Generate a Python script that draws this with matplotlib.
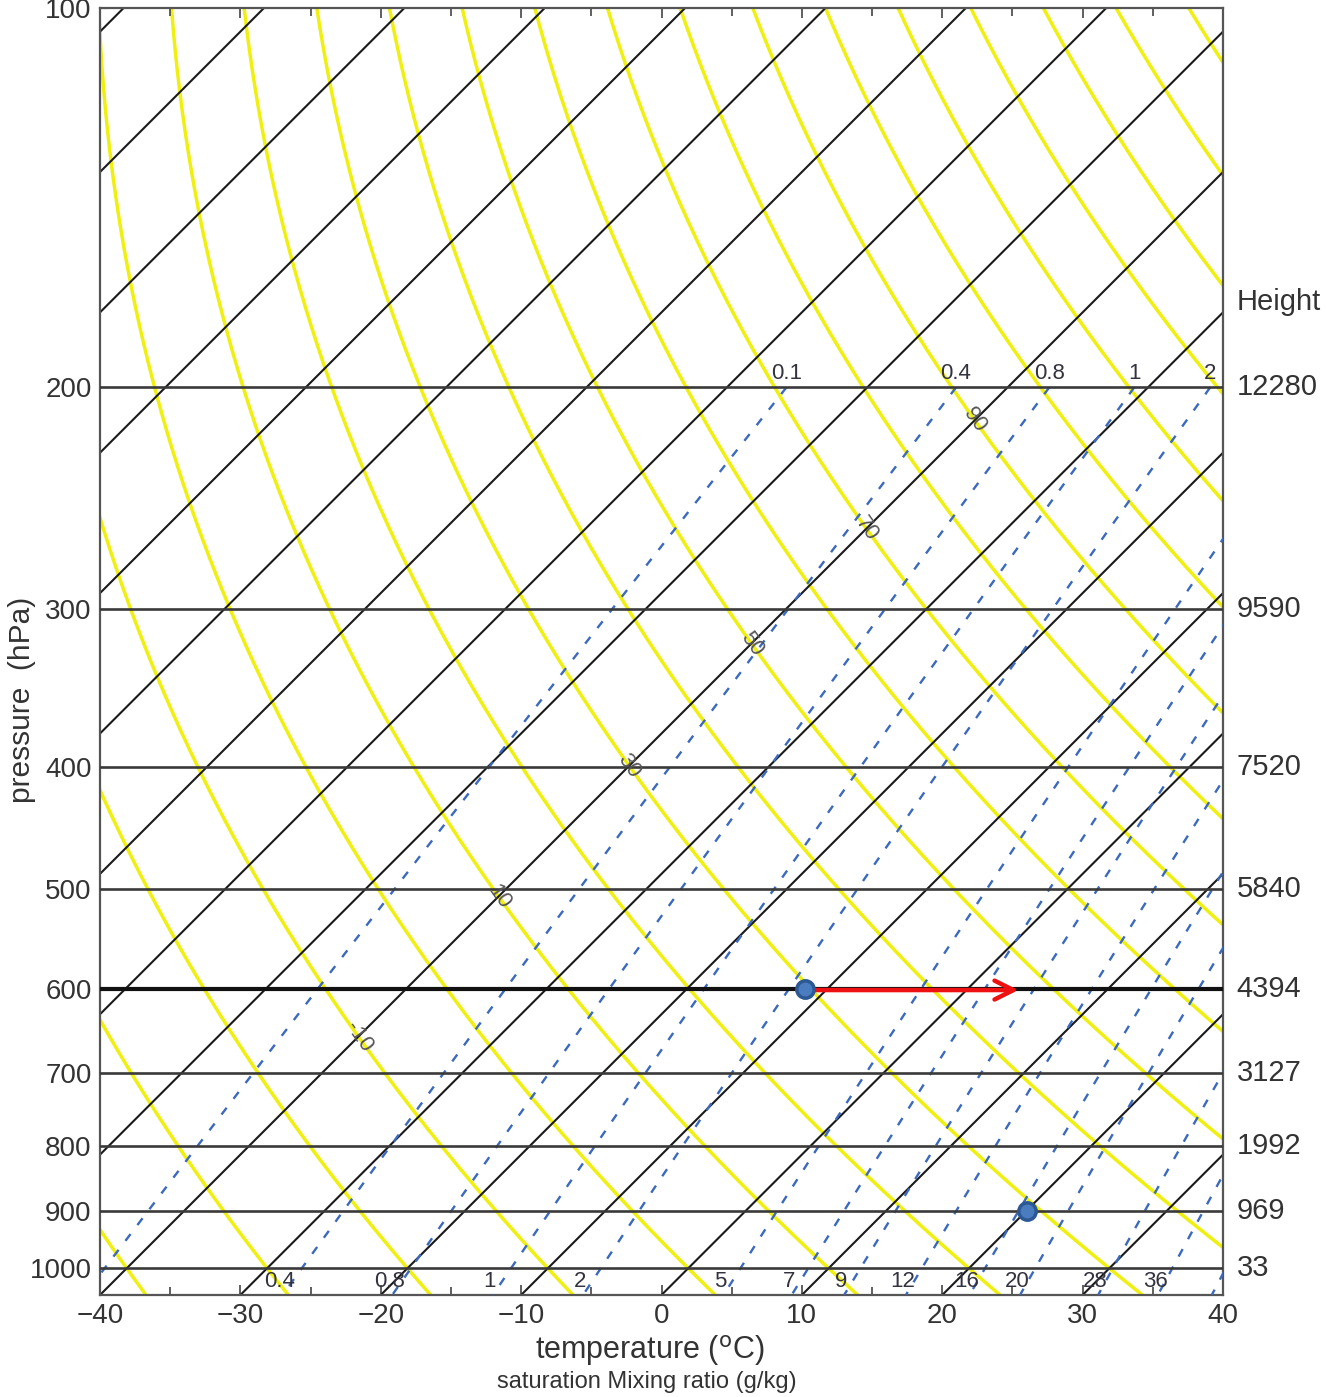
import numpy as np
import matplotlib
matplotlib.use('Agg')
import matplotlib.pyplot as plt
from matplotlib.ticker import FixedLocator, NullLocator, FixedFormatter

plt.rcParams['font.family'] = ['Liberation Sans', 'DejaVu Sans']

# ---------------- data ----------------
temp_ticks = [-40, -30, -20, -10, 0, 10, 20, 30, 40]
pressure_ticks = [100, 200, 300, 400, 500, 600, 700, 800, 900, 1000]
isobar_levels = [200, 300, 400, 500, 600, 700, 800, 900, 1000]
height_labels = ['12280', '9590', '7520', '5840', '4394', '3127', '1992', '969', '33']
isotherms = list(range(-130, 41, 10))            # deg C
theta_values = list(range(-40, 161, 10))         # potential temperature, deg C
theta_label_values = [-10, 10, 30, 50, 70, 90]
theta_label_isotherm = -40
mixing_ratios = [0.1, 0.4, 0.8, 1.45, 2.4, 5, 7, 9, 12, 16, 20, 28, 36, 45]   # g/kg (line positions)
mr_bottom_labels = ['', '0.4', '0.8', '1', '2', '5', '7', '9', '12', '16', '20', '28', '36', '']
mr_top_labels = ['0.1', '0.4', '0.8', '1', '2', '', '', '', '', '', '', '', '', '']
mr_top_pressure = 200
parcel_T = [20, -11.6]
parcel_p = [900, 600]
arrow_T = [-11.6, 3.7]
arrow_p = 601.5

P_BOT, P_TOP = 1050, 100
T_MIN, T_MAX = -40, 40

# ---------------- figure ----------------
FW, FH, DPI = 13.26, 13.97, 100
fig = plt.figure(figsize=(FW, FH), dpi=DPI)
L, B = 100 / 1326, (1397 - 1295) / 1397
W, H = 1123 / 1326, 1287 / 1397
ax = fig.add_axes([L, B, W, H])
ax.set_yscale('log')
ax.set_xlim(T_MIN, T_MAX)
ax.set_ylim(P_BOT, P_TOP)

# skew so that isotherms are at 45 degrees on screen
axw_px = W * FW * DPI
axh_px = H * FH * DPI
K = (axh_px / np.log10(P_BOT / P_TOP)) / (axw_px / (T_MAX - T_MIN))


def skew(T, p):
    return np.asarray(T) + K * np.log10(P_BOT / np.asarray(p))


def t_from_theta(theta, p):
    return (theta + 273.15) * (np.asarray(p) / 1000.0) ** 0.286 - 273.15


def t_from_mixing(w, p):
    es = w * np.asarray(p) / (622.0 + w)
    a = np.log(es / 6.112)
    return 243.5 * a / (17.67 - a)


p_all = np.logspace(np.log10(P_TOP), np.log10(P_BOT), 500)

# dry adiabats (yellow)
for th in theta_values:
    ax.plot(skew(t_from_theta(th, p_all), p_all), p_all, color='#f0f010', lw=2.5, zorder=1)

# isotherms (black, skewed)
for T in isotherms:
    ax.plot(skew(np.full_like(p_all, T), p_all), p_all, color='#1a1a1a', lw=1.5, zorder=2)

# saturation mixing ratio lines (blue dashed)
p_mr = np.logspace(np.log10(mr_top_pressure), np.log10(P_BOT), 300)
for w in mixing_ratios:
    ax.plot(skew(t_from_mixing(w, p_mr), p_mr), p_mr, color='#3a69be', lw=1.7,
            dashes=(3.6, 4.8), zorder=3)

# isobars
for p in isobar_levels:
    if p == 600:
        ax.axhline(p, color='#111111', lw=3.0, zorder=4)
    else:
        ax.axhline(p, color='#3a3a3a', lw=1.9, zorder=4)

# mixing ratio labels
for w, lab in zip(mixing_ratios, mr_bottom_labels):
    if lab:
        xb = skew(t_from_mixing(w, P_BOT), P_BOT) - 0.2
        ax.text(xb, 1025, lab, ha='center', va='center', fontsize=16, color='#333340', zorder=6)
for w, lab in zip(mixing_ratios, mr_top_labels):
    if lab:
        xt = skew(t_from_mixing(w, mr_top_pressure), mr_top_pressure)
        ax.text(xt, 195, lab, ha='center', va='center', fontsize=16, color='#333340', zorder=6)

# potential temperature labels along the -40 isotherm
for th in theta_label_values:
    pl = 1000.0 * ((theta_label_isotherm + 273.15) / (th + 273.15)) ** (1 / 0.286)
    xl = skew(theta_label_isotherm, pl)
    p1, p2 = pl * 0.98, pl * 1.02
    d1 = ax.transData.transform((skew(t_from_theta(th, p1), p1), p1))
    d2 = ax.transData.transform((skew(t_from_theta(th, p2), p2), p2))
    ang = np.degrees(np.arctan2(d2[1] - d1[1], d2[0] - d1[0]))
    ax.text(xl, pl, str(th), ha='center', va='center', rotation=ang, rotation_mode='anchor',
            fontsize=16, color='#555555', zorder=6)

# red arrow and parcel points
ax.annotate('', xy=(skew(arrow_T[1], arrow_p), arrow_p),
            xytext=(skew(arrow_T[0], arrow_p), arrow_p),
            arrowprops=dict(arrowstyle='->', color='#ee1111', lw=3.2, mutation_scale=34,
                            shrinkA=0, shrinkB=0), zorder=7)
ax.plot(skew(parcel_T, parcel_p), parcel_p, 'o', ms=12.5, mfc='#4a7cc0', mec='#2c5894',
        mew=2.5, zorder=8, linestyle='none')

# axes styling
for s in ax.spines.values():
    s.set_color('#555555')
    s.set_linewidth(1.6)
ax.xaxis.set_major_locator(FixedLocator(temp_ticks))
ax.xaxis.set_minor_locator(FixedLocator(list(range(-35, 40, 10))))
ax.yaxis.set_major_locator(FixedLocator(pressure_ticks))
ax.yaxis.set_major_formatter(FixedFormatter([str(p) for p in pressure_ticks]))
ax.yaxis.set_minor_locator(NullLocator())
ax.tick_params(axis='both', which='both', direction='in', top=True, right=False,
               color='#444444', labelcolor='#333333')
ax.tick_params(axis='x', which='major', length=7, width=1.2, labelsize=20, pad=6)
ax.tick_params(axis='x', which='minor', length=6, width=1.2)
ax.tick_params(axis='y', which='major', length=5, labelsize=20, pad=6)

# heights on the right
for p, h in zip(isobar_levels, height_labels):
    ax.text(1.012, p, h, transform=ax.get_yaxis_transform(), ha='left', va='center',
            fontsize=21, color='#333333', clip_on=False)
ax.text(1.012, 171, 'Height', transform=ax.get_yaxis_transform(), ha='left', va='center',
        fontsize=21, color='#333333', clip_on=False)

# axis labels
fig.text(650 / 1326, 1 - 1350 / 1397, 'temperature ($^{\\rm o}$C)', ha='center', va='center',
         fontsize=22, color='#333333')
fig.text(647 / 1326, 1 - 1382 / 1397, 'saturation Mixing ratio (g/kg)', ha='center', va='center',
         fontsize=17, color='#333333')
fig.text(22 / 1326, 1 - 700 / 1397, 'pressure  (hPa)', ha='center', va='center', rotation=90,
         fontsize=21.5, color='#333333')

fig.savefig('out.png', dpi=DPI, facecolor='white')
